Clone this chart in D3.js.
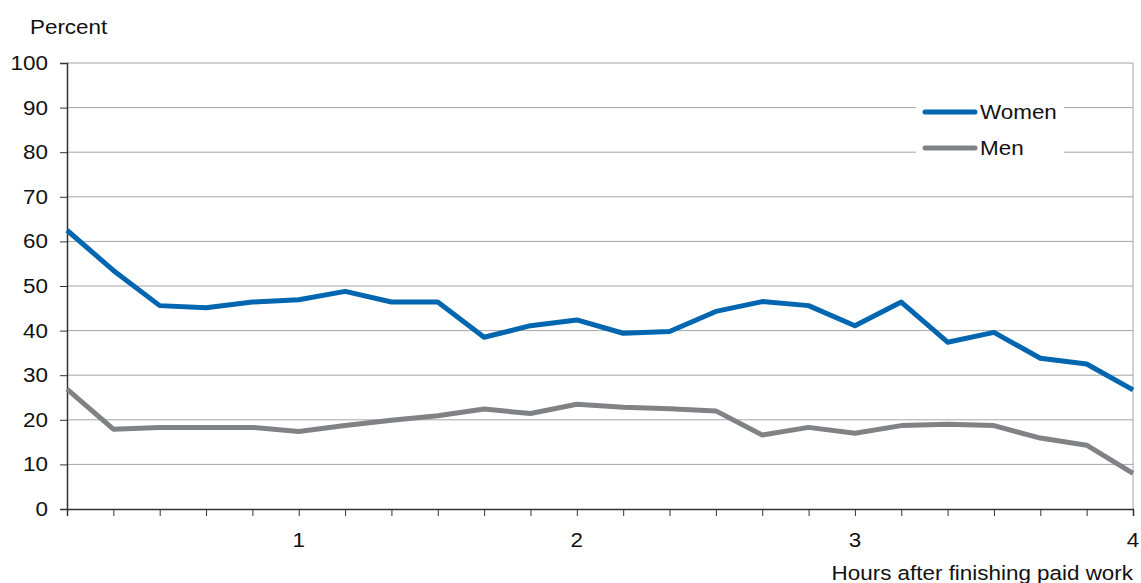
<!DOCTYPE html>
<html><head><meta charset="utf-8">
<script src="https://cdn.jsdelivr.net/npm/d3@7"></script>
<style>body{margin:0;background:#fff;}svg{display:block;font-family:"Liberation Sans",Arial,sans-serif;}</style>
</head><body><svg id="c" width="1141" height="583"></svg>
<script>
const minutes = [10,20,30,40,50,60,70,80,90,100,110,120,130,140,150,160,170,180,190,200,210,220,230,240];
const women = [62.5,53.5,45.6,45.1,46.4,46.9,48.8,46.4,46.4,38.5,41.1,42.4,39.4,39.8,44.3,46.5,45.6,41.1,46.4,37.4,39.6,33.8,32.5,26.7];
const men = [26.9,17.9,18.3,18.3,18.3,17.4,18.7,19.9,20.9,22.4,21.4,23.5,22.8,22.5,22.0,16.6,18.3,17.0,18.7,19.0,18.7,15.9,14.3,8.0];
const yTicks = [0,10,20,30,40,50,60,70,80,90,100];
const xLabelTicks = [60,120,180,240];
const xLabels = ["1","2","3","4"];
const seriesNames = ["Women","Men"];
const colors = ["#0066b0","#808285"];

const svg = d3.select("#c");
const L=67,R=1133,T=63,B=509;
const FS=19.5, SX=1.15;
const x = d3.scaleLinear().domain([10,240]).range([L,R]);
const y = d3.scaleLinear().domain([0,100]).range([B,T]);

function txt(g, tx, ty, s, anchor){
  return g.append("text").attr("transform",`translate(${tx},${ty}) scale(${SX},1)`)
    .attr("text-anchor",anchor||"start").attr("font-size",FS).attr("fill","#111").text(s);
}

// gridlines
svg.append("g").selectAll("line").data(yTicks.filter(d=>d>0)).join("line")
  .attr("x1",L).attr("x2",R).attr("y1",d=>y(d)).attr("y2",d=>y(d))
  .attr("stroke","#a6a6a6").attr("stroke-width",1);
svg.append("line").attr("x1",R).attr("x2",R).attr("y1",T).attr("y2",B).attr("stroke","#a6a6a6");

// y axis
const ya = svg.append("g").attr("transform",`translate(${L},0)`)
  .call(d3.axisLeft(y).tickValues(yTicks).tickSize(7).tickFormat(""));
ya.select(".domain").attr("stroke","#333").attr("stroke-width",1.5);
ya.selectAll(".tick line").attr("stroke","#333");
const yl = svg.append("g");
yTicks.forEach(d=>txt(yl, 48, y(d)+7, String(d), "end"));

// x axis
const xa = svg.append("g").attr("transform",`translate(0,${B})`)
  .call(d3.axisBottom(x).tickValues(minutes).tickSize(7).tickFormat(""));
xa.select(".domain").attr("stroke","#333").attr("stroke-width",1.5);
xa.selectAll(".tick line").attr("stroke","#333");
const xl = svg.append("g");
xLabelTicks.forEach((d,i)=>txt(xl, x(d), 547, xLabels[i], "middle"));

txt(svg, 30, 34, "Percent", "start");
txt(svg, 1133, 580, "Hours after finishing paid work", "end");

const line = d3.line().x((d,i)=>x(minutes[i])).y(d=>y(d));
[women,men].forEach((s,k)=>{
  svg.append("path").datum(s).attr("d",line).attr("fill","none")
    .attr("stroke",colors[k]).attr("stroke-width",5).attr("stroke-linejoin","round");
});

// legend
svg.append("rect").attr("x",916).attr("y",95).attr("width",148).attr("height",70).attr("fill","#fff");
seriesNames.forEach((n,i)=>{
  const yy = 112 + i*36;
  svg.append("line").attr("x1",925).attr("x2",975).attr("y1",yy).attr("y2",yy)
    .attr("stroke",colors[i]).attr("stroke-width",5).attr("stroke-linecap","round");
  txt(svg, 980, yy+7, n, "start");
});
</script></body></html>
